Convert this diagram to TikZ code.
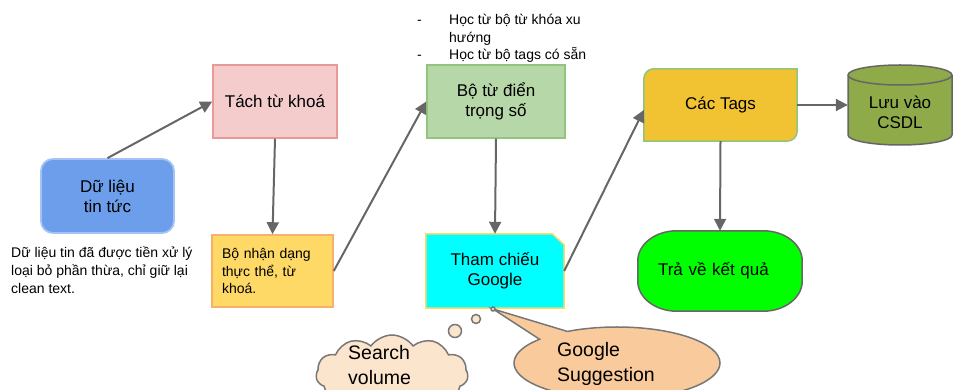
\documentclass[tikz,border=0pt]{standalone}
\usepackage{fontspec}
\setmainfont{Liberation Sans}
\usetikzlibrary{arrows.meta,shapes.symbols,shapes.callouts,backgrounds}
\definecolor{arrowgray}{HTML}{666666}
\definecolor{dlfill}{HTML}{6D9EEB}
\definecolor{dlborder}{HTML}{A4C2F4}
\definecolor{tkfill}{HTML}{F4CCCC}
\definecolor{tkborder}{HTML}{EA9999}
\definecolor{bnfill}{HTML}{FFD966}
\definecolor{bnborder}{HTML}{F6B26B}
\definecolor{bdfill}{HTML}{B6D7A8}
\definecolor{bdborder}{HTML}{93C47D}
\definecolor{tcfill}{HTML}{00FFFF}
\definecolor{tcborder}{HTML}{FFD966}
\definecolor{ctfill}{HTML}{F1C232}
\definecolor{ctborder}{HTML}{93C47D}
\definecolor{dbfill}{HTML}{8FAA48}
\definecolor{tvfill}{HTML}{00FF00}
\definecolor{cloudfill}{HTML}{FCE5CD}
\definecolor{speechfill}{HTML}{F9CB9C}
\definecolor{bubbleborder}{HTML}{777777}
\begin{document}
\begin{tikzpicture}[x=1pt,y=1pt,
  big/.style={font=\fontsize{17}{20}\selectfont, align=center},
  small/.style={font=\fontsize{14}{17.5}\selectfont},
  huge/.style={font=\fontsize{19.5}{24.5}\selectfont, align=left, anchor=west, inner sep=0pt},
  arr/.style={draw=arrowgray, line width=2pt, -{Triangle[length=12pt,width=12pt]}},
  bubble/.style={draw=bubbleborder, fill=cloudfill, line width=1.5pt}
]
\useasboundingbox (0,0) rectangle (955,390);

% left part
\node[big, draw=dlborder, fill=dlfill, line width=1.8pt, rounded corners=12pt,
  minimum width=133pt, minimum height=74pt] (dl) at (107.5,194) {Dữ liệu\\tin tức};
\node[font=\fontsize{14}{18}\selectfont, anchor=west, align=left, inner sep=0pt] (note) at (11,120)
  {Dữ liệu tin đã được tiền xử lý\\loại bỏ phần thừa, chỉ giữ lại\\clean text.};
\node[big, draw=tkborder, fill=tkfill, line width=1.5pt,
  minimum width=124pt, minimum height=73pt] (tk) at (275,288.5) {Tách từ khoá};
\node[small, draw=bnborder, fill=bnfill, line width=1.5pt, text width=101pt,
  inner xsep=10pt, minimum height=72pt, align=left] (bn) at (272.5,119)
  {Bộ nhận dạng\\thực thể, từ\\khoá.};

% middle
\node[small, anchor=west, align=left, inner sep=0pt] (bl) at (417,351.5)
  {\makebox[32pt][l]{-}Học từ bộ từ khóa xu\\\hspace*{32pt}hướng\\\makebox[32pt][l]{-}Học từ bộ tags có sẵn};
\node[big, draw=bdborder, fill=bdfill, line width=1.5pt,
  minimum width=138pt, minimum height=73pt] (bd) at (496,288.5) {Bộ từ điển\\trọng số};
\node[big, minimum width=138pt, minimum height=74pt] (tc) at (495,119) {Tham chiếu\\Google};

% right
\node[big, minimum width=153pt, minimum height=72pt] (ct) at (720.5,285) {Các Tags};
\fill[dbfill, draw=arrowgray, line width=1.5pt] (848,315) -- (848,255)
  arc[start angle=180, end angle=360, x radius=52pt, y radius=10pt] -- (952,315)
  arc[start angle=0, end angle=180, x radius=52pt, y radius=10pt] -- cycle;
\draw[arrowgray, line width=1.5pt] (848,315) arc[start angle=180, end angle=360, x radius=52pt, y radius=10pt];
\node[big, minimum width=104pt, minimum height=62pt, inner sep=0pt] (db) at (900,277.5) {Lưu vào\\CSDL};
\node[big, text width=124pt, inner xsep=20pt, minimum height=80pt, align=left] (tv) at (720,119) {Trả về kết quả};

\begin{scope}[on background layer]
  \fill[tcfill, draw=tcborder, line width=1.5pt] (tc.south west) -- (tc.north west)
    -- ([xshift=-12pt]tc.north east) -- ([yshift=-11pt]tc.north east) -- (tc.south east) -- cycle;
  \fill[ctfill, draw=ctborder, line width=1.5pt] (ct.south west) -- ([yshift=-10pt]ct.north west)
    arc[start angle=180, end angle=90, radius=10pt] -- (ct.north east)
    -- ([yshift=10pt]ct.south east) arc[start angle=0, end angle=-90, radius=10pt] -- cycle;
  \fill[tvfill, draw=arrowgray, line width=1.5pt]
    ([xshift=39pt]tv.south west) -- ([xshift=-39pt]tv.south east)
    arc[start angle=-90, end angle=0, x radius=39pt, y radius=30pt]
    -- ([yshift=-30pt]tv.north east)
    arc[start angle=0, end angle=90, x radius=39pt, y radius=30pt]
    -- ([xshift=39pt]tv.north west)
    arc[start angle=90, end angle=180, x radius=39pt, y radius=30pt]
    -- ([yshift=30pt]tv.south west)
    arc[start angle=180, end angle=270, x radius=39pt, y radius=30pt] -- cycle;
\end{scope}

% bubbles
\node[cloud, cloud puffs=11, cloud puff arc=110, aspect=2, bubble,
  minimum width=152pt, minimum height=78pt, inner sep=0pt] (sv) at (392,16) {};
\node[huge] (svl) at (348,25) {Search\\volume};
\draw[bubble] (455,59) circle[radius=6.5pt];
\draw[bubble] (476,71) circle[radius=4.5pt];
\node[ellipse callout, callout absolute pointer={(493,81)}, callout pointer arc=20,
  draw=bubbleborder, fill=speechfill, line width=1.5pt,
  minimum width=206pt, minimum height=72pt, inner sep=0pt] (gsb) at (617,27) {};
\node[huge] (gs) at (557,26) {Google\\Suggestion};
\draw[bubble] (493,81) circle[radius=2pt];

% connectors
\draw[arr] (dl.north) -- (tk.west);
\draw[arr] (tk.south) -- (bn.north);
\draw[arr] (bn.east) -- (bd.west);
\draw[arr] (bd.south) -- (tc.north);
\draw[arr] (tc.east) -- ([yshift=-5pt]ct.west);
\draw[arr] (ct.east) -- (db.west |- ct.east);
\draw[arr] (ct.south) -- (tv.north);
\end{tikzpicture}
\end{document}
